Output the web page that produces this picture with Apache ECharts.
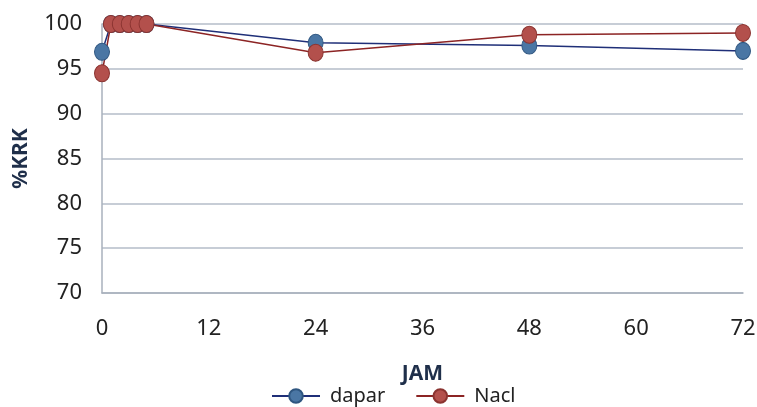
<!DOCTYPE html>
<html><head><meta charset="utf-8">
<script src="https://cdn.jsdelivr.net/npm/echarts@6/dist/echarts.min.js"></script>
<style>html,body{margin:0;padding:0;background:#fff}#c{width:757px;height:407px}</style>
</head><body><div id="c"></div>
<script>
const hours = [0, 1, 2, 3, 4, 5, 24, 48, 72];
const dapar = [96.9, 100, 100, 100, 100, 100, 97.9, 97.6, 97.0];
const nacl  = [94.5, 100, 100, 100, 100, 100, 96.8, 98.8, 99.0];
const xTicks = [0, 12, 24, 36, 48, 60, 72];
const yTicks = [70, 75, 80, 85, 90, 95, 100];

const font = '"Noto Sans", "Liberation Sans", sans-serif';
const chart = echarts.init(document.getElementById('c'));
chart.setOption({
  animation: false,
  backgroundColor: '#fff',
  grid: { left: 102, right: 14, top: 24, bottom: 114, containLabel: false, outerBoundsMode: 'none' },
  xAxis: {
    type: 'value', min: xTicks[0], max: xTicks[xTicks.length - 1], interval: 12,
    name: 'JAM', nameLocation: 'middle', nameGap: 71,
    nameTextStyle: { fontFamily: font, fontWeight: 'bold', fontSize: 21, color: '#1f2f4a' },
    axisLine: { show: true, lineStyle: { color: '#a8b0bc', width: 1.5 } },
    axisTick: { show: false },
    splitLine: { show: false },
    axisLabel: { fontFamily: font, fontSize: 22, color: '#222', margin: 25 }
  },
  yAxis: {
    type: 'value', min: yTicks[0], max: yTicks[yTicks.length - 1], interval: 5,
    name: '%KRK', nameLocation: 'middle', nameGap: 70, nameRotate: 90,
    nameTextStyle: { fontFamily: font, fontWeight: 'bold', fontSize: 21, color: '#1f2f4a' },
    axisLine: { show: true, lineStyle: { color: '#a8b0bc', width: 1.5 } },
    axisTick: { show: false },
    splitLine: { show: true, lineStyle: { color: '#b4bcc8', width: 1.5 } },
    axisLabel: { fontFamily: font, fontSize: 22, color: '#222', margin: 20 }
  },
  legend: {
    top: 381, left: 266, itemGap: 30, itemWidth: 48, itemHeight: 17,
    textStyle: { fontFamily: font, fontSize: 20, color: '#222', padding: [0, 0, 0, 5] },
    data: ['dapar', 'Nacl']
  },
  series: [
    {
      name: 'dapar', type: 'line', data: hours.map((h, i) => [h, dapar[i]]),
      symbol: 'circle', symbolSize: [15, 17],
      lineStyle: { color: '#1f2f78', width: 1.5 },
      itemStyle: { color: '#4a76a4', borderColor: '#2f5680', borderWidth: 1 }
    },
    {
      name: 'Nacl', type: 'line', data: hours.map((h, i) => [h, nacl[i]]),
      symbol: 'circle', symbolSize: [15, 17],
      lineStyle: { color: '#8c2424', width: 1.5 },
      itemStyle: { color: '#b3504c', borderColor: '#8a3330', borderWidth: 1 }
    }
  ]
});
</script></body></html>
